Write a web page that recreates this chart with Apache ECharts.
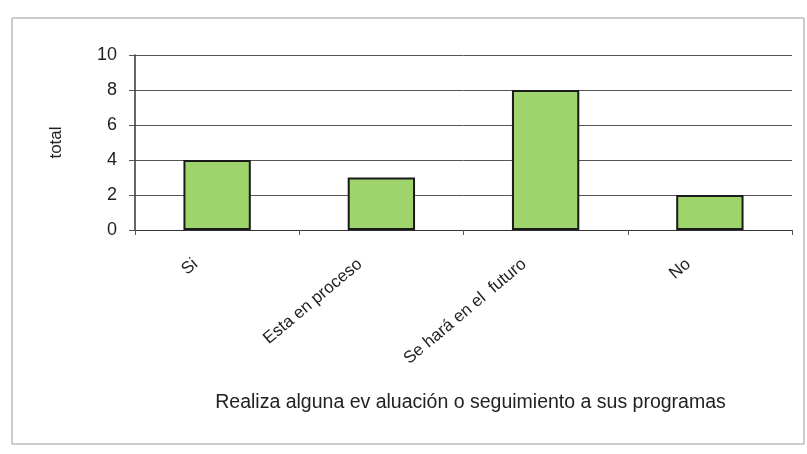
<!DOCTYPE html>
<html>
<head>
<meta charset="utf-8">
<script src="https://cdn.jsdelivr.net/npm/echarts@6/dist/echarts.min.js"></script>
<style>
  html, body { margin: 0; padding: 0; background: #fff; }
  #chart { width: 807px; height: 454px; }
</style>
</head>
<body>
<div id="chart"></div>
<script>
  // categorías y valores
  const categories = ['Si', 'Esta en proceso', 'Se hará en el  futuro', 'No']
  const totals = [4, 3, 8, 2]
  const yTicks = [0, 2, 4, 6, 8, 10]

  const chart = echarts.init(document.getElementById('chart'))
  const font = 'Liberation Sans, Arial, sans-serif'

  chart.setOption({
    animation: false,
    graphic: [
      {
        type: 'rect',
        shape: { x: 12, y: 18, width: 792, height: 426 },
        style: { fill: 'none', stroke: '#9a9a9a', lineWidth: 1 },
        z: -1
      }
    ],
    grid: { left: 135, right: 15, top: 55, bottom: 224 },
    xAxis: {
      type: 'category',
      data: categories,
      name: 'Realiza alguna ev aluación o seguimiento a sus programas',
      nameLocation: 'middle',
      nameGap: 163,
      nameTextStyle: { color: '#222', fontSize: 19.5, fontFamily: font, padding: [0, 0, 0, 14] },
      axisLine: { show: true, lineStyle: { color: '#333', width: 1 } },
      axisTick: { show: true, alignWithLabel: false, length: 5, lineStyle: { color: '#555' } },
      axisLabel: {
        rotate: 40,
        color: '#222',
        fontSize: 17,
        fontFamily: font,
        margin: 14,
        padding: [0, 28, 0, 0],
        interval: 0
      }
    },
    yAxis: {
      type: 'value',
      min: yTicks[0],
      max: yTicks[yTicks.length - 1],
      interval: 2,
      name: 'total',
      nameLocation: 'middle',
      nameGap: 70,
      nameTextStyle: { color: '#222', fontSize: 17, fontFamily: font },
      axisLine: { show: true, lineStyle: { color: '#333', width: 1.5 } },
      axisTick: { show: true, length: 6, lineStyle: { color: '#555' } },
      axisLabel: { color: '#222', fontSize: 18, fontFamily: font, margin: 18 },
      splitLine: { show: true, lineStyle: { color: '#555', width: 1 } }
    },
    series: [
      {
        type: 'bar',
        data: totals,
        barWidth: '41%',
        itemStyle: {
          color: '#9fd36c',
          borderColor: '#1a1a1a',
          borderWidth: 2
        }
      }
    ]
  })

  window.addEventListener('resize', () => chart.resize())
</script>
</body>
</html>
